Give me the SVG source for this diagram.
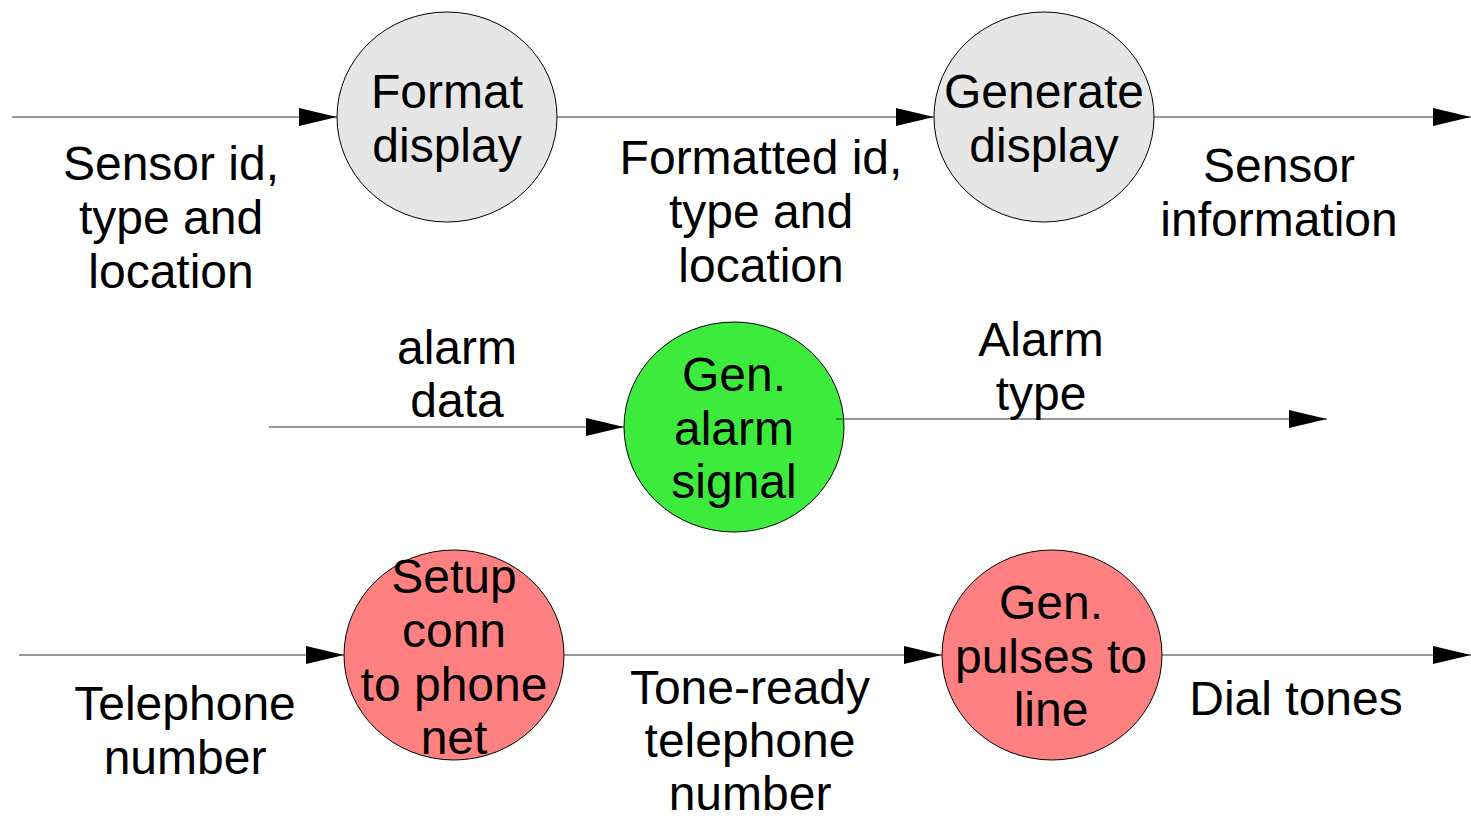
<svg xmlns="http://www.w3.org/2000/svg" width="1471" height="821" viewBox="0 0 1471 821">
  <defs>
    <marker id="arrow" markerWidth="38" markerHeight="18" refX="38" refY="9" orient="auto" markerUnits="userSpaceOnUse">
      <path d="M0,0 L38,9 L0,18 Z" fill="#000"/>
    </marker>
  </defs>
  <style>
    .flow { stroke: #333; stroke-width: 1.2; fill: none; marker-end: url(#arrow); }
    .bubble { stroke: #000; stroke-width: 1; }
    .grey { fill: #e6e6e6; }
    .green { fill: #3deb3d; }
    .red { fill: #ff8080; }
    text { font-family: "Liberation Sans", Arial, sans-serif; font-size: 48px; fill: #000; text-anchor: middle; }
  </style>
  <rect width="1471" height="821" fill="#fff"/>

  <!-- processes -->
  <g id="format-display">
    <ellipse class="bubble grey" cx="447" cy="117" rx="110" ry="105"/>
    <text x="447" y="108">Format</text>
    <text x="447" y="162">display</text>
  </g>
  <g id="generate-display">
    <ellipse class="bubble grey" cx="1044" cy="117" rx="110" ry="105"/>
    <text x="1044" y="108">Generate</text>
    <text x="1044" y="162">display</text>
  </g>
  <g id="gen-alarm-signal">
    <ellipse class="bubble green" cx="734" cy="427" rx="110" ry="105"/>
    <text x="734" y="391">Gen.</text>
    <text x="734" y="445">alarm</text>
    <text x="734" y="498">signal</text>
  </g>
  <g id="setup-conn">
    <ellipse class="bubble red" cx="454" cy="655" rx="110" ry="105"/>
    <text x="454" y="593">Setup</text>
    <text x="454" y="647">conn</text>
    <text x="454" y="701">to phone</text>
    <text x="454" y="754">net</text>
  </g>
  <g id="gen-pulses">
    <ellipse class="bubble red" cx="1052" cy="655" rx="110" ry="105"/>
    <text x="1051" y="619">Gen.</text>
    <text x="1051" y="673">pulses to</text>
    <text x="1051" y="726">line</text>
  </g>

  <!-- data flows -->
  <g id="connectors">
    <line class="flow" x1="12" y1="117" x2="337" y2="117"/>
    <line class="flow" x1="557" y1="117" x2="934" y2="117"/>
    <line class="flow" x1="1154" y1="117" x2="1471" y2="117"/>
    <line class="flow" x1="269" y1="427" x2="624" y2="427"/>
    <line class="flow" x1="836" y1="419" x2="1327" y2="419"/>
    <line class="flow" x1="19" y1="655" x2="344" y2="655"/>
    <line class="flow" x1="564" y1="655" x2="942" y2="655"/>
    <line class="flow" x1="1162" y1="655" x2="1471" y2="655"/>
  </g>

  <!-- flow labels -->
  <g id="flow-labels">
    <text x="171" y="180">Sensor id,</text>
    <text x="171" y="234">type and</text>
    <text x="171" y="288">location</text>
    <text x="761" y="174">Formatted id,</text>
    <text x="761" y="228">type and</text>
    <text x="761" y="282">location</text>
    <text x="1279" y="182">Sensor</text>
    <text x="1279" y="236">information</text>
    <text x="457" y="364">alarm</text>
    <text x="457" y="417">data</text>
    <text x="1041" y="356">Alarm</text>
    <text x="1041" y="410">type</text>
    <text x="185" y="720">Telephone</text>
    <text x="185" y="774">number</text>
    <text x="750" y="704">Tone-ready</text>
    <text x="750" y="757">telephone</text>
    <text x="750" y="810">number</text>
    <text x="1296" y="715">Dial tones</text>
  </g>
</svg>
